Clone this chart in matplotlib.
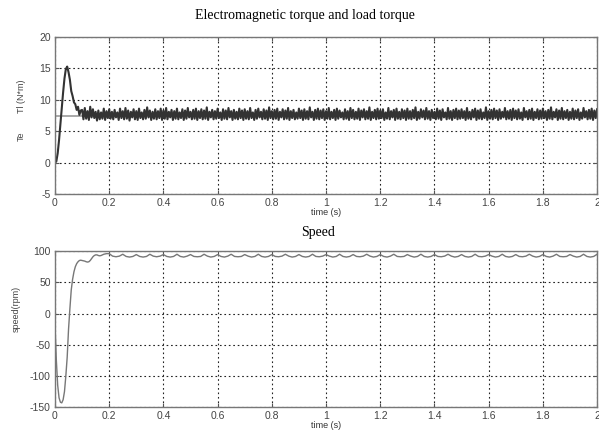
import numpy as np
import matplotlib.pyplot as plt

plt.rcParams['axes.unicode_minus'] = False

# torque start-up (0 .. 0.095 s, step 0.005)
te_start = [0.0, 0.2, 1.5, 3.6, 6.2, 8.6, 11.2, 13.4, 14.9, 15.3,
            14.4, 13.2, 11.4, 10.6, 9.6, 9.3, 8.4, 8.9, 7.6, 8.3]
# torque steady state (0.100 .. 2.000 s, step 0.005)
te_steady = [
    8.4, 6.9, 8.7, 7.0, 8.2, 6.8, 8.9, 7.2, 8.5, 7.1, 8.1, 6.7, 8.3, 6.9, 8.0, 7.0, 8.6, 6.8, 8.2, 7.1,
    8.5, 7.0, 8.1, 6.9, 8.4, 7.2, 8.0, 6.8, 8.6, 7.1, 8.2, 6.9, 8.7, 7.0, 8.3, 6.7, 8.1, 7.2, 8.5, 6.9,
    8.2, 6.8, 8.6, 7.1, 8.0, 6.9, 8.4, 7.0, 8.8, 7.2, 8.3, 6.8, 8.1, 7.0, 8.5, 6.9, 8.2, 7.1, 8.6, 6.8,
    8.3, 7.0, 8.7, 6.9, 8.1, 7.2, 8.4, 6.8, 8.2, 7.0, 8.6, 6.9, 8.0, 7.1, 8.5, 6.8, 8.3, 7.0, 8.7, 7.2,
    8.1, 6.9, 8.4, 7.0, 8.6, 6.8, 8.2, 7.1, 8.5, 6.9, 8.3, 7.0, 8.8, 6.8, 8.1, 7.2, 8.4, 6.9, 8.2, 7.0,
    8.6, 7.1, 8.0, 6.8, 8.5, 7.0, 8.3, 6.9, 8.7, 7.2, 8.2, 6.8, 8.4, 7.0, 8.1, 6.9, 8.6, 7.1, 8.3, 6.8,
    8.5, 7.0, 8.2, 6.9, 8.7, 7.1, 8.0, 6.8, 8.4, 7.0, 8.6, 7.2, 8.1, 6.9, 8.5, 7.0, 8.3, 6.8, 8.8, 7.1,
    8.2, 6.9, 8.4, 7.0, 8.6, 6.8, 8.1, 7.2, 8.5, 6.9, 8.3, 7.0, 8.7, 6.8, 8.2, 7.1, 8.4, 6.9, 8.0, 7.0,
    8.6, 7.1, 8.3, 6.8, 8.5, 7.0, 8.2, 6.9, 8.8, 7.2, 8.1, 6.8, 8.4, 7.0, 8.6, 6.9, 8.3, 7.1, 8.5, 6.8,
    8.2, 7.0, 8.7, 6.9, 8.1, 7.1, 8.4, 6.8, 8.6, 7.0, 8.3, 7.2, 8.0, 6.9, 8.5, 7.0, 8.2, 6.8, 8.7, 7.1,
    8.4, 6.9, 8.1, 7.0, 8.6, 6.8, 8.3, 7.2, 8.5, 6.9, 8.2, 7.0, 8.8, 6.8, 8.1, 7.1, 8.4, 6.9, 8.6, 7.0,
    8.3, 7.1, 8.5, 6.8, 8.0, 7.0, 8.7, 6.9, 8.2, 7.2, 8.4, 6.8, 8.6, 7.0, 8.1, 6.9, 8.5, 7.1, 8.3, 6.8,
    8.6, 7.0, 8.2, 6.9, 8.4, 7.1, 8.8, 6.8, 8.1, 7.0, 8.5, 7.2, 8.3, 6.9, 8.7, 7.0, 8.2, 6.8, 8.4, 7.1,
    8.1, 6.9, 8.6, 7.0, 8.3, 6.8, 8.5, 7.2, 8.0, 6.9, 8.7, 7.0, 8.2, 6.8, 8.4, 7.1, 8.6, 6.9, 8.3, 7.0,
    8.5, 7.1, 8.2, 6.8, 8.7, 7.0, 8.1, 6.9, 8.4, 7.2, 8.6, 6.8, 8.3, 7.0, 8.5, 6.9, 8.0, 7.1, 8.8, 6.8,
    8.2, 7.0, 8.4, 6.9, 8.6, 7.1, 8.3, 6.8, 8.5, 7.0, 8.1, 7.2, 8.7, 6.9, 8.2, 7.0, 8.4, 6.8, 8.6, 7.1,
    8.3, 6.9, 8.5, 7.0, 8.0, 6.8, 8.7, 7.2, 8.2, 6.9, 8.4, 7.0, 8.6, 6.8, 8.1, 7.1, 8.5, 6.9, 8.3, 7.0,
    8.6, 7.1, 8.2, 6.8, 8.4, 7.0, 8.8, 6.9, 8.1, 7.2, 8.5, 6.8, 8.3, 7.0, 8.7, 6.9, 8.2, 7.1, 8.4, 6.8,
    8.1, 7.0, 8.6, 6.9, 8.3, 7.1, 8.5, 6.8, 8.0, 7.0, 8.7, 7.2, 8.2, 6.9, 8.4, 7.0, 8.6, 6.8, 8.3, 7.1,
    8.5]
load_torque = 7.5

# speed start-up (0 .. 0.195 s, step 0.005)
speed_start = [-18, -75, -115, -135, -142, -143, -138, -125, -100, -70,
               -25, 8, 38, 55, 67, 75, 80, 83, 85, 85.5,
               85, 84.5, 84, 83, 82.5, 83, 85, 88, 91, 93,
               94, 94, 93, 92.5, 93, 94, 95, 95.5, 96, 96]
# speed ripple (0.2 .. 2.0 s, step 0.0125)
speed_steady = [
    96, 92, 91, 92, 95, 91.5, 90.5, 91.5, 94.5, 91.5, 90.5, 91.5, 95, 92, 91, 92,
    94.5, 91.5, 90.5, 91.5, 95, 91.5, 90.5, 92, 94.5, 91.5, 91, 91.5, 95, 92, 90.5, 91.5,
    94.5, 91.5, 90.5, 92, 95, 91.5, 91, 91.5, 94.5, 92, 90.5, 91.5, 95, 91.5, 90.5, 91.5,
    94.5, 91.5, 91, 92, 95, 92, 90.5, 91.5, 94.5, 91.5, 90.5, 91.5, 95, 91.5, 91, 92,
    94.5, 92, 90.5, 91.5, 95, 91.5, 90.5, 91.5, 94.5, 91.5, 91, 92, 95, 92, 90.5, 91.5,
    94.5, 91.5, 90.5, 92, 95, 91.5, 91, 91.5, 94.5, 92, 90.5, 91.5, 95, 91.5, 90.5, 91.5,
    94.5, 91.5, 91, 92, 95, 92, 90.5, 91.5, 94.5, 91.5, 90.5, 91.5, 95, 91.5, 91, 92,
    94.5, 92, 90.5, 91.5, 95, 91.5, 90.5, 91.5, 94.5, 91.5, 91, 92, 95, 92, 90.5, 91.5,
    94.5, 91.5, 90.5, 92, 95, 91.5, 91, 91.5, 94.5, 92, 90.5, 91.5, 95, 91.5, 90.5, 91.5,
    95]

xticks = [0, 0.2, 0.4, 0.6, 0.8, 1, 1.2, 1.4, 1.6, 1.8, 2]
xticklabels = ['0', '0.2', '0.4', '0.6', '0.8', '1', '1.2', '1.4', '1.6', '1.8', '2']


def style_axes(ax):
    ax.set_xlim(0, 2)
    ax.set_xticks(xticks)
    ax.set_xticklabels(xticklabels)
    ax.grid(True, linestyle=(0, (1.5, 2.5)), color='#222222', linewidth=0.8)
    ax.tick_params(direction='in', length=3, top=True, right=True,
                   labelsize=7.5, labelcolor='#444444', color='#555555', pad=3)
    for s in ax.spines.values():
        s.set_color('#777777')
        s.set_linewidth(1.0)
    for lab in ax.get_xticklabels() + ax.get_yticklabels():
        lab.set_family('Liberation Sans')


def main():
    t_start = np.arange(len(te_start)) * 0.005
    t_steady = 0.1 + np.arange(len(te_steady)) * 0.005
    t_te = np.concatenate([t_start, t_steady])
    te = np.concatenate([te_start, te_steady])

    ts_start = np.arange(len(speed_start)) * 0.005
    ts_steady = 0.2 + np.arange(len(speed_steady)) * 0.0125
    t_sp = np.concatenate([ts_start, ts_steady])
    sp = np.concatenate([speed_start, speed_steady])

    fig = plt.figure(figsize=(5.99, 4.36), dpi=100)
    ax1 = fig.add_axes([0.0918, 0.555, 0.905, 0.360])
    ax2 = fig.add_axes([0.0918, 0.066, 0.905, 0.358])

    ax1.plot([0, 2], [load_torque, load_torque], color='#999999', linewidth=1.2)
    ax1.plot(t_te, te, color='#333333', linewidth=1.5)
    ax1.set_ylim(-5, 20)
    ax1.set_yticks([-5, 0, 5, 10, 15, 20])
    style_axes(ax1)
    ax1.set_title('Electromagnetic torque and load torque', family='Liberation Serif',
                  fontsize=10, pad=13, x=0.461)
    ax1.set_xlabel('time (s)', family='Liberation Sans', fontsize=6.5, labelpad=0,
                   color='#333333')

    ax2.plot(t_sp, sp, color='#777777', linewidth=1.0)
    ax2.set_ylim(-150, 100)
    ax2.set_yticks([-150, -100, -50, 0, 50, 100])
    style_axes(ax2)
    ax2.set_title('Speed', family='Liberation Serif', fontsize=10, pad=11, x=0.485)
    ax2.set_xlabel('time (s)', family='Liberation Sans', fontsize=6.5, labelpad=0,
                   color='#333333')

    fig.text(21 / 599, 1 - 136 / 436, 'Te', rotation=90, family='Liberation Sans',
             fontsize=6.5, color='#444444', ha='center', va='center')
    fig.text(21 / 599, 1 - 96 / 436, 'Tl (N*m)', rotation=90, family='Liberation Sans',
             fontsize=6.5, color='#444444', ha='center', va='center')
    fig.text(16 / 599, 1 - 309 / 436, 'speed(rpm)', rotation=90, family='Liberation Sans',
             fontsize=6.5, color='#444444', ha='center', va='center')

    fig.savefig('out.png', dpi=100)


if __name__ == '__main__':
    main()
